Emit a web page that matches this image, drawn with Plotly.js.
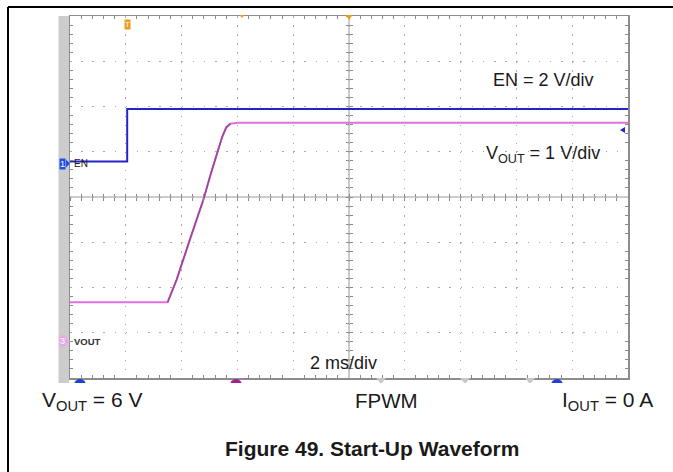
<!DOCTYPE html>
<html>
<head>
<meta charset="utf-8">
<script src="https://cdn.plot.ly/plotly-3.0.1.min.js"></script>
<style>
html,body{margin:0;padding:0;background:#fff;}
#chart{width:673px;height:472px;}
</style>
</head>
<body>
<div id="chart"></div>
<script>
// ---- data (time in ms, voltages in V) ----
const enTime  = [0, 2.05, 2.05, 20];
const enVolts = [0.03, 0.03, 2.35, 2.35];
const voutTime  = [0, 3.5, 3.82, 4.3, 4.78, 5.05, 5.3, 5.45, 5.6, 5.75, 6.0, 20];
const voutVolts = [0.855, 0.855, 1.35, 2.25, 3.12, 3.7, 4.2, 4.5, 4.72, 4.8, 4.82, 4.82];

// ---- scope settings ----
const timePerDiv = 2;      // ms/div
const enPerDiv = 2;        // V/div
const voutPerDiv = 1;      // V/div
const enGroundDiv = 4.77;  // ground position, divisions from bottom
const voutGroundDiv = 0.82;
const nDivX = 10, nDivY = 8;

// plot area in pixels
const L = 70, R = 628, T = 16, B = 378;
const W = 673, H = 472;
const px = x => (x - L) / (R - L);
const py = y => (B - y) / (B - T);

const enRange = [-enGroundDiv * enPerDiv, (nDivY - enGroundDiv) * enPerDiv];
const voutRange = [-voutGroundDiv * voutPerDiv, (nDivY - voutGroundDiv) * voutPerDiv];

const rampIdx = [1, 10];

const traces = [
  // empty traces so the centre-cross tick axes are drawn
  {x: [], y: [], type: 'scatter', mode: 'lines', xaxis: 'x3', yaxis: 'y3', hoverinfo: 'skip'},
  {x: [], y: [], type: 'scatter', mode: 'lines', xaxis: 'x4', yaxis: 'y4', hoverinfo: 'skip'},
  {x: enTime, y: enVolts, type: 'scatter', mode: 'lines', xaxis: 'x', yaxis: 'y',
   line: {color: '#2424c8', width: 2}, hoverinfo: 'skip'},
  {x: voutTime, y: voutVolts, type: 'scatter', mode: 'lines', xaxis: 'x', yaxis: 'y2',
   line: {color: '#e070e0', width: 2}, hoverinfo: 'skip'},
  {x: voutTime.slice(rampIdx[0], rampIdx[1]), y: voutVolts.slice(rampIdx[0], rampIdx[1]),
   type: 'scatter', mode: 'lines', xaxis: 'x', yaxis: 'y2',
   line: {color: '#9a459a', width: 1.6}, hoverinfo: 'skip'}
];

const tickCol = '#8a8a8a';
const centerAxisX = (ticks) => ({
  overlaying: 'x', anchor: 'free', position: 0.5, range: [0, nDivX * timePerDiv],
  showgrid: false, zeroline: false, showticklabels: false, showline: false,
  ticks: ticks, ticklen: 3, tickcolor: tickCol, tickwidth: 1, dtick: timePerDiv / 5, tick0: 0
});
const centerAxisY = (ticks) => ({
  overlaying: 'y', anchor: 'free', position: 0.5, range: enRange,
  showgrid: false, zeroline: false, showticklabels: false, showline: false,
  ticks: ticks, ticklen: 3, tickcolor: tickCol, tickwidth: 1, dtick: enPerDiv / 5, tick0: enRange[0]
});

const font = 'Arial, "Liberation Sans", sans-serif';
const ann = (x, y, text, size, opts) => Object.assign({
  xref: 'paper', yref: 'paper', x: px(x), y: py(y), text: text, showarrow: false,
  xanchor: 'center', yanchor: 'middle', font: {family: font, size: size, color: '#1a1a1a'}
}, opts || {});

const layout = {
  width: W, height: H,
  margin: {l: L, r: W - R, t: T, b: H - B, pad: 0},
  paper_bgcolor: '#ffffff', plot_bgcolor: '#ffffff',
  showlegend: false,
  xaxis: {
    range: [0, nDivX * timePerDiv], dtick: timePerDiv, tick0: 0,
    showgrid: true, gridcolor: '#a8a8a8', gridwidth: 1, griddash: '1.5px,7.55px',
    zeroline: false, showticklabels: false,
    showline: true, linecolor: '#8c8c8c', linewidth: 1.5, mirror: 'allticks',
    ticks: 'inside', ticklen: 0, tickcolor: tickCol,
    minor: {dtick: timePerDiv / 5, tick0: 0, ticks: 'inside', ticklen: 3, tickcolor: tickCol, showgrid: false}
  },
  yaxis: {
    range: enRange, dtick: enPerDiv, tick0: enRange[0],
    showgrid: true, gridcolor: '#a8a8a8', gridwidth: 1, griddash: '1.5px,9.66px',
    zeroline: false, showticklabels: false,
    showline: true, linecolor: '#8c8c8c', linewidth: 1.5, mirror: 'allticks',
    ticks: 'inside', ticklen: 0, tickcolor: tickCol,
    minor: {dtick: enPerDiv / 5, tick0: enRange[0], ticks: 'inside', ticklen: 3, tickcolor: tickCol, showgrid: false}
  },
  yaxis2: {overlaying: 'y', range: voutRange, showgrid: false, zeroline: false,
           showticklabels: false, showline: false, ticks: ''},
  xaxis3: centerAxisX('inside'),
  xaxis4: centerAxisX('outside'),
  yaxis3: centerAxisY('inside'),
  yaxis4: centerAxisY('outside'),
  shapes: [
    // outer frame
    {type: 'line', xref: 'paper', yref: 'paper', x0: px(8), x1: px(673), y0: py(7), y1: py(7), line: {color: '#000', width: 2}},
    {type: 'line', xref: 'paper', yref: 'paper', x0: px(8), x1: px(8), y0: py(7), y1: py(472), line: {color: '#000', width: 2}},
    // grey side bar of the scope screen
    {type: 'rect', xref: 'paper', yref: 'paper', x0: px(58.5), x1: px(69), y0: py(16), y1: py(383), fillcolor: '#cccccc', line: {width: 0}, layer: 'below'},
    // center cross
    {type: 'line', xref: 'paper', yref: 'paper', x0: 0.5, x1: 0.5, y0: 0, y1: 1, line: {color: '#9a9a9a', width: 1}, layer: 'below'},
    {type: 'line', xref: 'paper', yref: 'paper', x0: 0, x1: 1, y0: 0.5, y1: 0.5, line: {color: '#9a9a9a', width: 1}, layer: 'below'},
    // bottom cut-off status indicators
    {type: 'circle', xref: 'paper', yref: 'paper', x0: px(74), x1: px(86), y0: py(379), y1: py(391), fillcolor: '#1d3fd8', line: {width: 0}},
    {type: 'circle', xref: 'paper', yref: 'paper', x0: px(230), x1: px(242), y0: py(379), y1: py(391), fillcolor: '#a0208f', line: {width: 0}},
    {type: 'circle', xref: 'paper', yref: 'paper', x0: px(551), x1: px(563), y0: py(379), y1: py(391), fillcolor: '#1d3fd8', line: {width: 0}},
    {type: 'path', xref: 'paper', yref: 'paper',
     path: `M ${px(376)} ${py(378)} L ${px(386)} ${py(378)} L ${px(381)} ${py(384)} Z`, fillcolor: '#c8c8c8', line: {width: 0}},
    {type: 'path', xref: 'paper', yref: 'paper',
     path: `M ${px(460)} ${py(378)} L ${px(470)} ${py(378)} L ${px(465)} ${py(384)} Z`, fillcolor: '#c8c8c8', line: {width: 0}},
    {type: 'path', xref: 'paper', yref: 'paper',
     path: `M ${px(525)} ${py(378)} L ${px(535)} ${py(378)} L ${px(530)} ${py(384)} Z`, fillcolor: '#c8c8c8', line: {width: 0}},
    {type: 'rect', xref: 'paper', yref: 'paper', x0: px(70), x1: px(640), y0: py(383), y1: py(392), fillcolor: '#ffffff', line: {width: 0}},
    // top orange markers
    {type: 'path', xref: 'paper', yref: 'paper',
     path: `M ${px(345.5)} ${py(15)} L ${px(352.5)} ${py(15)} L ${px(349)} ${py(20)} Z`, fillcolor: '#f29a1f', line: {width: 0}},
    {type: 'path', xref: 'paper', yref: 'paper',
     path: `M ${px(239.5)} ${py(15)} L ${px(244.5)} ${py(15)} L ${px(242)} ${py(18)} Z`, fillcolor: '#f29a1f', line: {width: 0}},
    // channel ground marker arrows
    {type: 'path', xref: 'paper', yref: 'paper',
     path: `M ${px(66)} ${py(159.5)} L ${px(70)} ${py(163.5)} L ${px(66)} ${py(167.5)} Z`, fillcolor: '#1f4fe8', line: {width: 0}},
    {type: 'path', xref: 'paper', yref: 'paper',
     path: `M ${px(66)} ${py(337)} L ${px(70)} ${py(341)} L ${px(66)} ${py(345)} Z`, fillcolor: '#e6a8e6', line: {width: 0}},
    // trigger level arrow on right
    {type: 'path', xref: 'paper', yref: 'paper',
     path: `M ${px(620)} ${py(130)} L ${px(625)} ${py(127)} L ${px(625)} ${py(133)} Z`, fillcolor: '#2424c8', line: {width: 0}}
  ],
  annotations: [
    ann(543, 80, 'EN = 2 V/div', 18),
    ann(543, 154, 'V<sub>OUT</sub> = 1 V/div', 18),
    ann(343.5, 363, '2 ms/div', 18),
    ann(40, 401, 'V<sub>OUT</sub> = 6 V', 21, {xanchor: 'left'}),
    ann(386.5, 400, 'FPWM', 20.5),
    ann(560, 401, 'I<sub>OUT</sub> = 0 A', 21, {xanchor: 'left'}),
    ann(372, 448, '<b>Figure 49. Start-Up Waveform</b>', 21),
    // channel markers
    ann(62.5, 163.5, '1', 9, {bgcolor: '#1f4fe8', borderpad: 0, font: {family: font, size: 9, color: '#ffffff'}}),
    ann(72, 163.5, 'EN', 10, {xanchor: 'left'}),
    ann(62.5, 341, '3', 9, {bgcolor: '#e6a8e6', borderpad: 0, font: {family: font, size: 9, color: '#ffffff'}}),
    ann(72, 341, '<b>VOUT</b>', 9.5, {xanchor: 'left', font: {family: font, size: 9.5, color: '#333333'}}),
    ann(127, 24.5, 'T', 8, {bgcolor: '#f29a1f', borderpad: 0, font: {family: font, size: 8, color: '#ffffff'}})
  ]
};

Plotly.newPlot('chart', traces, layout, {staticPlot: true, displayModeBar: false});
</script>
</body>
</html>
